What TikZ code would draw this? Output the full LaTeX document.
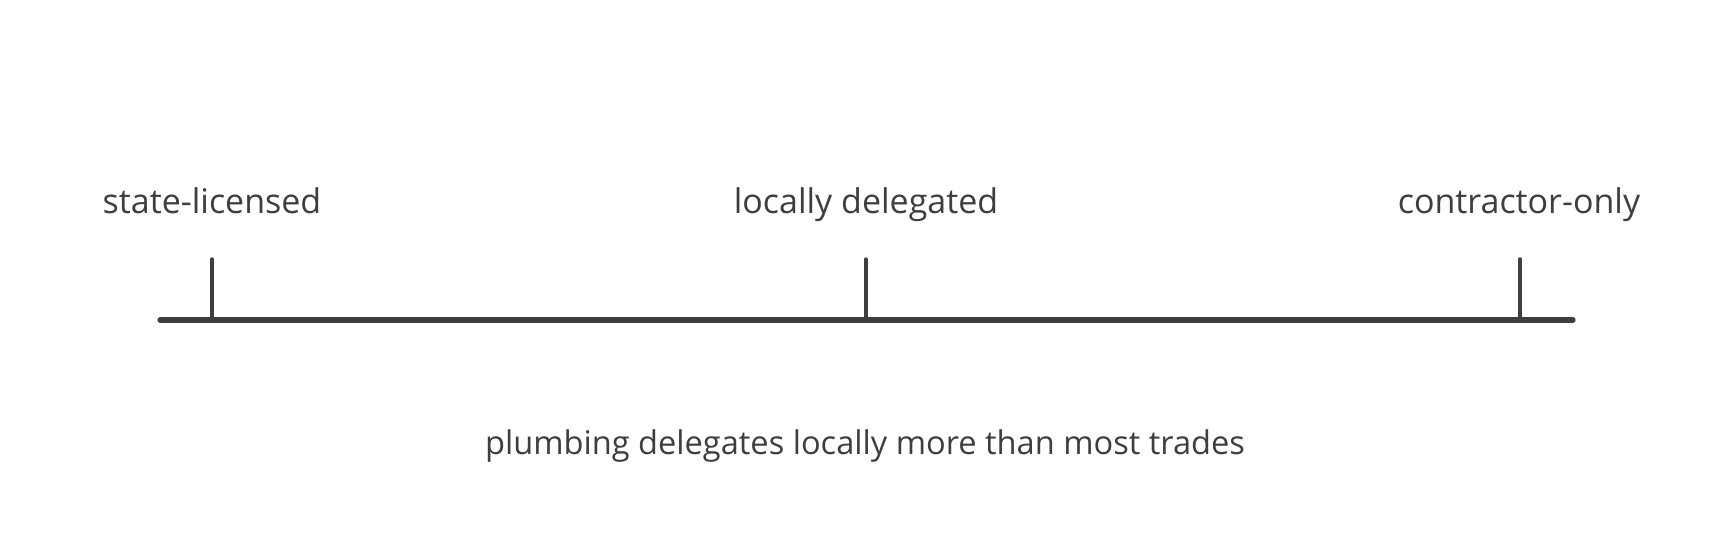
\documentclass[tikz,border=0pt]{standalone}
\usepackage{fontspec}
\setmainfont{Open Sans}
\definecolor{inkgray}{RGB}{61,61,66}

\begin{document}
\begin{tikzpicture}[x=0.5pt, y=-0.5pt,
        axisline/.style={inkgray, line width=2.6pt, line cap=round},
        tickline/.style={inkgray, line width=1.7pt, line cap=round},
        ticklabel/.style={text=inkgray, font=\fontsize{17}{20}\selectfont, inner sep=0pt, anchor=base},
        captext/.style={ticklabel, font=\fontsize{16.3}{19}\selectfont}]
                \useasboundingbox (0,0) rectangle (1733,560);
                \coordinate (axisL) at (160,320);
                \coordinate (axisR) at (1573,320);
                \coordinate (footA) at (212,320);
                \coordinate (footB) at (866,320);
                \coordinate (footC) at (1520,320);
                \coordinate (topA) at (212,259);
                \coordinate (topB) at (866,259);
                \coordinate (topC) at (1520,259);
                \draw[axisline] (axisL) -- (axisR);
                \draw[tickline] (footA) -- (topA);
                \draw[tickline] (footB) -- (topB);
                \draw[tickline] (footC) -- (topC);
                \node[ticklabel] (stateLbl) at (212,214) {state-licensed};
                \node[ticklabel] (localLbl) at (866,214) {locally delegated};
                \node[ticklabel] (contrLbl) at (1519,214) {contractor-only};
                \node[captext] (caption) at (865,455) {plumbing delegates locally more than most trades};
\end{tikzpicture}
\end{document}
